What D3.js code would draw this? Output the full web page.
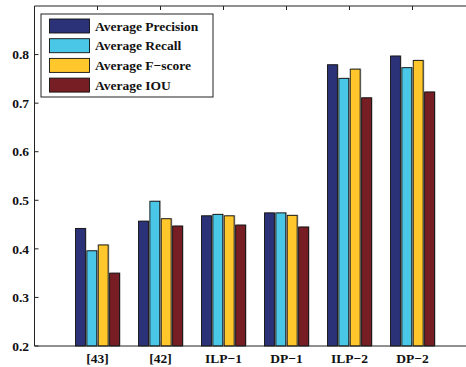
<!DOCTYPE html>
<html><head><meta charset="utf-8">
<script src="https://cdn.jsdelivr.net/npm/d3@7"></script>
<style>body{margin:0;background:#fff}svg{display:block}</style>
</head><body>
<script>
const categories = ["[43]", "[42]", "ILP\u22121", "DP\u22121", "ILP\u22122", "DP\u22122"];
const seriesNames = ["Average Precision", "Average Recall", "Average F\u2212score", "Average IOU"];
const precision = [0.442, 0.457, 0.468, 0.474, 0.779, 0.797];
const recall    = [0.396, 0.498, 0.471, 0.474, 0.751, 0.773];
const fscore    = [0.408, 0.462, 0.468, 0.469, 0.770, 0.788];
const iou       = [0.350, 0.447, 0.449, 0.445, 0.711, 0.723];
const yTicks = [0.2, 0.3, 0.4, 0.5, 0.6, 0.7, 0.8];
const colors = ["#2c3278", "#4ac6e6", "#ffc72c", "#761e23"];
const series = [precision, recall, fscore, iou];

const W = 466, H = 367;
const mLeft = 34.5, mTop = 6, mBottom = 346, step = 63;
const svg = d3.select("body").append("svg").attr("width", W).attr("height", H);
const font = "'Liberation Serif','Times New Roman',serif";

const x = d3.scaleLinear().domain([0, 7]).range([mLeft, mLeft + 7 * step]);
const y = d3.scaleLinear().domain([0.2, 0.9]).range([mBottom, mTop]);
const inner = d3.scaleBand().domain(d3.range(4)).range([-22, 22]).paddingInner(0.13);

// bars
const g = svg.append("g");
categories.forEach((c, i) => {
  series.forEach((s, k) => {
    const bx = x(i + 1) + inner(k), bw = inner.bandwidth();
    g.append("rect").attr("x", bx + 1.2).attr("y", y(s[i]) - 0.6)
      .attr("width", bw).attr("height", mBottom - y(s[i]) + 0.6)
      .attr("fill", "#9a9a9a").attr("opacity", 0.7);
    g.append("rect").attr("x", bx).attr("y", y(s[i]))
      .attr("width", bw).attr("height", mBottom - y(s[i]))
      .attr("fill", colors[k]).attr("stroke", "#111").attr("stroke-width", 0.9);
  });
});

// axes
const ax = svg.append("g").attr("stroke", "#222").attr("stroke-width", 1).attr("fill", "none");
ax.append("line").attr("x1", mLeft).attr("x2", W).attr("y1", mTop).attr("y2", mTop);
ax.append("line").attr("x1", mLeft).attr("x2", W).attr("y1", mBottom).attr("y2", mBottom);
ax.append("line").attr("x1", mLeft).attr("x2", mLeft).attr("y1", mTop).attr("y2", mBottom);
categories.forEach((c, i) => {
  ax.append("line").attr("x1", x(i + 1)).attr("x2", x(i + 1)).attr("y1", mTop).attr("y2", mTop + 4);
  ax.append("line").attr("x1", x(i + 1)).attr("x2", x(i + 1)).attr("y1", mBottom).attr("y2", mBottom - 4).attr("stroke", "#666");
});
yTicks.forEach(t => {
  ax.append("line").attr("x1", mLeft).attr("x2", mLeft + 4).attr("y1", y(t)).attr("y2", y(t));
});

// y labels
svg.append("g").selectAll("text").data(yTicks).join("text")
  .attr("x", 29).attr("y", d => y(d)).attr("dy", "0.35em")
  .attr("text-anchor", "end").attr("font-family", font).attr("font-weight", "bold")
  .attr("font-size", 13.5).attr("fill", "#111").text(d => d.toFixed(1));

// x labels
svg.append("g").selectAll("text").data(categories).join("text")
  .attr("x", (d, i) => x(i + 1)).attr("y", 363)
  .attr("text-anchor", "middle").attr("font-family", font).attr("font-weight", "bold")
  .attr("font-size", 13.5).attr("fill", "#111").text(d => d);

// legend
const lg = svg.append("g");
lg.append("rect").attr("x", 41).attr("y", 14).attr("width", 172).attr("height", 83)
  .attr("fill", "#fff").attr("stroke", "#222").attr("stroke-width", 1);
seriesNames.forEach((n, k) => {
  const cy = 26 + k * 19.7;
  lg.append("rect").attr("x", 49.5).attr("y", cy - 7).attr("width", 40).attr("height", 14)
    .attr("fill", colors[k]).attr("stroke", "#111").attr("stroke-width", 0.9);
  lg.append("text").attr("x", 95).attr("y", cy).attr("dy", "0.35em")
    .attr("font-family", font).attr("font-weight", "bold").attr("font-size", 13.5)
    .attr("fill", "#111").text(n);
});
</script>
</body></html>
